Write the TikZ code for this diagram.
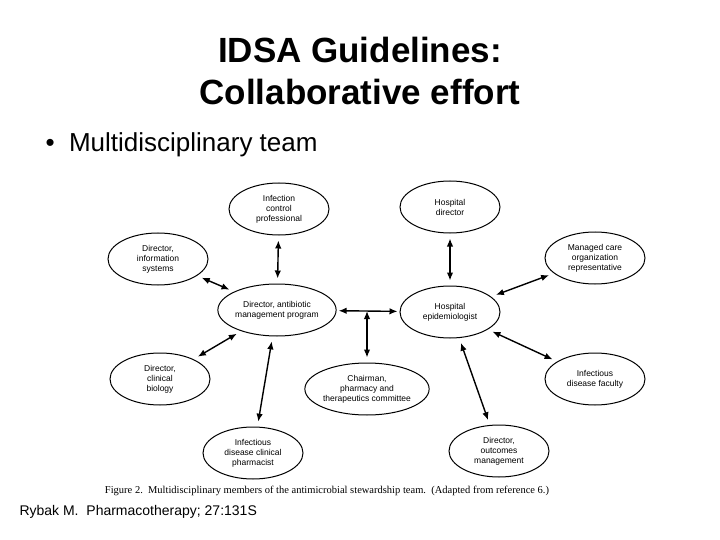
\documentclass[tikz,border=0pt]{standalone}
\usepackage{fontspec}
\setmainfont{Liberation Sans}
\newfontfamily\capfont{Liberation Serif}
\usetikzlibrary{shapes.geometric,arrows.meta}
\begin{document}
\begin{tikzpicture}[x=1pt,y=-1pt,
  member/.style={ellipse,draw,line width=1pt,minimum width=100pt,minimum height=52pt,inner sep=0pt,align=center,font=\fontsize{8.5}{10}\selectfont},
  link/.style={line width=1.4pt,{Latex[length=8pt,width=6.5pt]}-{Latex[length=8pt,width=6.5pt]},shorten <=5pt,shorten >=5pt}]
\useasboundingbox[fill=white] (0,0) rectangle (720,540);
\node[font=\bfseries\fontsize{35}{42}\selectfont,align=center] (title) at (360,71) {IDSA Guidelines:\\Collaborative effort};
\node[anchor=west,font=\fontsize{26}{30}\selectfont] (bullet) at (42,145) {\textbullet\ \ Multidisciplinary team};
\node[anchor=west,font=\fontsize{14}{16}\selectfont] (foot) at (16,512) {Rybak M.\ \ Pharmacotherapy; 27:131S};
\node[member] (icp) at (279,209) {Infection\\control\\professional};
\node[member] (hd) at (450,207) {Hospital\\director};
\node[member] (dis) at (158,259) {Director,\\information\\systems};
\node[member] (mco) at (595,258) {Managed care\\organization\\representative};
\node[member] (dam) at (277,310) {Director, antibiotic\\management program};
\node[member] (he) at (450,312) {Hospital\\epidemiologist};
\node[member] (dcb) at (160,379) {Director,\\clinical\\biology};
\node[member] (ptc) at (367,389) {Chairman,\\pharmacy and\\therapeutics committee};
\node[member] (idf) at (595,379) {Infectious\\disease faculty};
\node[member] (idp) at (253,453) {Infectious\\disease clinical\\pharmacist};
\node[member] (dom) at (499,451) {Director,\\outcomes\\management};
\node[font=\capfont\fontsize{10.5}{12}\selectfont] (cap) at (327,491) {Figure 2.\ \ Multidisciplinary members of the antimicrobial stewardship team.\ \ (Adapted from reference 6.)};
\coordinate (mid) at (367,310);
\draw[link] (icp) -- (dam);
\draw[link] (dis) -- (dam);
\draw[link] (dcb) -- (dam);
\draw[link] (idp) -- (dam);
\draw[link,shorten <=2pt,shorten >=2pt] (dam) -- (he);
\draw[link,shorten >=1pt] (ptc) -- (mid);
\draw[link] (hd) -- (he);
\draw[link] (mco) -- (he);
\draw[link] (idf) -- (he);
\draw[link] (dom) -- (he);
\end{tikzpicture}
\end{document}
